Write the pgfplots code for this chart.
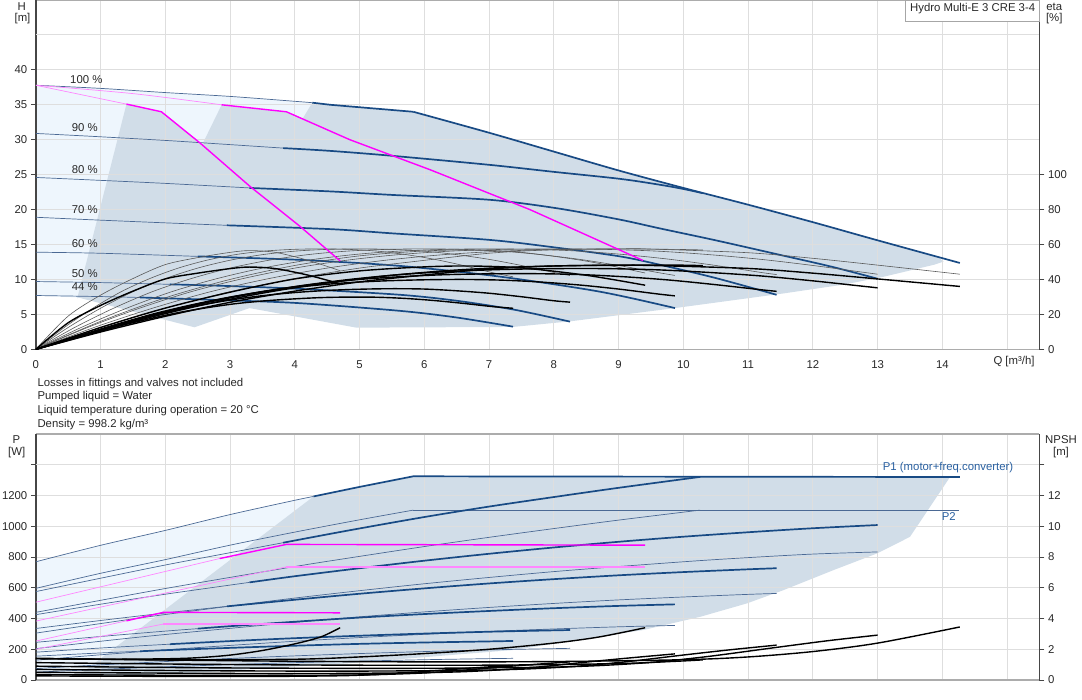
\documentclass[border=0pt]{standalone}
\usepackage{pgfplots}
\pgfplotsset{compat=1.18}
\usepackage{fontspec}
\setmainfont{Liberation Sans}
\definecolor{blueC}{RGB}{24,74,132}
\definecolor{blueT}{RGB}{75,105,148}
\definecolor{fillG}{RGB}{209,221,232}
\definecolor{fillL}{RGB}{238,246,253}
\definecolor{gridC}{RGB}{222,222,222}
\definecolor{magC}{RGB}{255,0,255}
\definecolor{pinkC}{RGB}{255,135,255}
\definecolor{spineC}{RGB}{70,70,70}
\definecolor{txtC}{RGB}{40,40,40}
\definecolor{lblue}{RGB}{40,95,160}
\newcommand{\fs}{\fontsize{11.4}{13.5}\selectfont}
\tikzset{
 thinb/.style={blueT, line width=0.7bp},
 thickb/.style={blueC, line width=1.7bp},
 mag/.style={magC, line width=1.4bp},
 pinkt/.style={pinkC, line width=0.7bp},
 pinkk/.style={pinkC, line width=1.6bp},
 etat/.style={black!65, line width=0.6bp},
 etak/.style={black, line width=1.4bp},
}
\pgfplotsset{
  base/.style={scale only axis, width=1003.7bp, xmin=0, xmax=15.5,
    tick label style={font=\fs, text=txtC},
    /pgf/number format/assume math mode=true,
    /pgf/number format/1000 sep={},
    scaled ticks=false},
  hid/.style={base, hide axis},
  frame/.style={base, grid=major, major grid style={gridC, line width=1bp},
    axis on top, separate axis lines,
    every outer x axis line/.append style={gray!65, line width=1.2bp},
    every outer y axis line/.append style={spineC, line width=1.5bp},
    ytick pos=left, tick align=outside, major tick length=5bp,
    xtick style={draw=none}, ytick style={spineC, line width=1bp}},
  rax/.style={base, axis x line=none, axis y line*=right,
    y axis line style={spineC, line width=1.5bp, -},
    tick align=outside, major tick length=5bp, ytick style={spineC, line width=1bp}},
}
\begin{document}
\begin{tikzpicture}
\path[use as bounding box] (0,0) rectangle (1082bp,-700bp);
% ================= TOP: fills, grid, left axis =================
\begin{axis}[frame, at={(35.8bp,-349.3bp)}, anchor=south west, height=349.3bp,
  ymin=0, ymax=50,
  xtick={0,...,14}, extra x ticks={15}, extra x tick labels={},
  extra x tick style={grid=major, tick style={draw=none}},
  ytick={0,5,...,40}, extra y ticks={45}, extra y tick labels={},
  extra y tick style={grid=major, tick style={draw=none}},
  xticklabel style={yshift=-3bp}]
\addplot[fill=fillL, draw=none] coordinates {(0,37.8)(1,37.35)(2,36.75)(3,36.2)(4,35.5)(4.55,35.0)(5.83,34.0)(5.83,20)(1.5,20)(0.66,7.4)(0,7.7)} -- cycle;
\addplot[fill=fillG, draw=none] coordinates {(0.64,7.3)(1.40,35.1)(1.94,34.0)(2.57,29.3)(2.87,35.0)(3.87,34.0)(4.12,33.0)(4.27,35.3)(4.55,35.0)(5.83,34.0)(7,31.0)(8,28.3)(9,25.6)(10,23.1)(11,20.7)(12,18.2)(13,15.6)(13.95,13.1)(14.02,12.55)(13.87,12.1)(13.1,10.4)(12.5,9.3)(11.55,8.0)(9.87,5.9)(8.25,4.0)(7.37,3.2)(4.95,3.1)(3.3,5.9)(2.45,3.15)(0.66,7.4)} -- cycle;
\end{axis}
% ================= TOP: QH curves =================
\begin{axis}[hid, at={(35.8bp,-349.3bp)}, anchor=south west, height=349.3bp, ymin=0, ymax=50]
\addplot[thinb, smooth] coordinates {(0,37.8)(1,37.35)(2,36.75)(3,36.2)(4,35.5)(4.27,35.3)};
\addplot[thickb] coordinates {(4.27,35.3)(4.55,35.0)(5.83,34.0)};
\addplot[thickb, smooth] coordinates {(5.83,34.0)(7,31.0)(8,28.3)(9,25.6)(10,23.1)(11,20.7)(12,18.2)(13,15.6)(14.27,12.36)};
\addplot[thinb, smooth] coordinates {(0,30.9)(0.84,30.5)(2,29.9)(3,29.3)(3.82,28.8)};
\addplot[thickb, smooth] coordinates {(3.82,28.8)(4.55,28.4)(5.5,27.7)(7.01,26.4)(8,25.4)(9.02,24.4)(9.64,23.55)(10.0,22.95)(10.3,22.35)};
\addplot[thinb, smooth] coordinates {(0,24.6)(0.84,24.25)(2,23.75)(3.3,23.1)};
\addplot[thickb, smooth] coordinates {(3.3,23.1)(4.55,22.6)(5.5,22.1)(7.01,21.4)(8.04,20.2)(9,18.6)(9.64,17.3)(10.5,15.6)(11.5,13.5)(12.3,11.8)(13.0,10.1)};
\addplot[thinb, smooth] coordinates {(0,18.9)(0.84,18.55)(2,18.1)(2.95,17.75)};
\addplot[thickb, smooth] coordinates {(2.95,17.75)(4.55,17.2)(5.5,16.6)(7.01,15.66)(8,14.6)(9.02,13.3)(9.64,12.1)(10.5,10.2)(11.44,7.8)};
\addplot[thinb, smooth] coordinates {(0,13.9)(1,13.75)(2.5,13.3)};
\addplot[thickb, smooth] coordinates {(2.5,13.3)(4.08,12.8)(5.63,11.93)(7.17,10.4)(8.71,8.25)(9.87,5.9)};
\addplot[thinb, smooth] coordinates {(0,9.7)(1,9.55)(2.07,9.3)};
\addplot[thickb, smooth] coordinates {(2.07,9.3)(3,9.05)(4.08,8.65)(5.63,7.8)(6.5,6.95)(7.4,5.65)(8.25,3.96)};
\addplot[thinb, smooth] coordinates {(0,7.7)(1,7.55)(1.61,7.42)};
\addplot[thickb, smooth] coordinates {(1.61,7.42)(3,7.0)(4.08,6.6)(5.63,5.5)(6.5,4.55)(7.37,3.24)};
\end{axis}
% ================= TOP: efficiency curves (right axis) =================
\begin{axis}[rax, at={(35.8bp,-349.3bp)}, anchor=south west, height=349.3bp,
  ymin=0, ymax=200, ytick={0,20,...,100}]
% pump efficiency (thin)
\addplot[etat, smooth] coordinates {(0,0)(1,12.5)(2,23.5)(3,33)(4,40.5)(5,46.5)(5.83,50.2)(7,55)(8,57)(9,57.5)(9.5,57.4)(11,55.3)(12,52.1)(13,48.2)(14.27,43)};
\addplot[etat, smooth] coordinates {(0,0)(0.9,12.5)(1.8,23.5)(2.7,33)(3.6,40.5)(4.5,46.5)(5.4,51)(6.3,54.2)(7.2,56.2)(8.1,57.2)(9,57.5)(9.9,57.2)(10.3,56.9)};
\addplot[etat, smooth] coordinates {(0,0)(0.8,12.5)(1.6,23.5)(2.4,33)(3.2,40.5)(4,46.5)(4.8,51)(5.6,54.2)(6.4,56.2)(7.2,57.2)(8,57.5)(8.8,57.2)(9.6,56.2)(10.4,54.2)(11.2,51.5)(12,48)(12.8,44)(13,43)};
\addplot[etat, smooth] coordinates {(0,0)(0.7,12.5)(1.4,23.5)(2.1,33)(2.8,40.5)(3.5,46.5)(4.2,51)(4.9,54.2)(5.6,56.2)(6.3,57.2)(7,57.5)(7.7,57.2)(8.4,56.2)(9.1,54.2)(9.8,51.5)(10.5,48)(11.2,44)(11.44,42.8)};
\addplot[etat, smooth] coordinates {(0,0)(0.6,12.5)(1.2,23.5)(1.8,33)(2.4,40.5)(3,46.5)(3.6,51)(4.2,54.2)(4.8,56.2)(5.4,57.2)(6,57.5)(6.6,57.2)(7.2,56.2)(7.8,54.2)(8.4,51.5)(9,48)(9.6,44)(9.87,42.3)};
\addplot[etat, smooth] coordinates {(0,0)(0.5,12.5)(1,23.5)(1.5,33)(2,40.5)(2.5,46.5)(3,51)(3.5,54.2)(4,56.2)(4.5,57.2)(5,57.5)(5.5,57.2)(6,56.2)(6.5,54.2)(7,51.5)(7.5,48)(8,44)(8.25,42.2)};
\addplot[etat, smooth] coordinates {(0,0)(0.44,12.5)(0.88,23.5)(1.32,33)(1.76,40.5)(2.2,46.5)(2.64,51)(3.08,54.2)(3.52,56.2)(3.96,57.2)(4.4,57.5)(4.84,57.2)(5.28,56.2)(5.72,54.2)(6.16,51.5)(6.6,48)(7.04,44)(7.37,41.5)};
\addplot[etat, smooth] coordinates {(0,0)(0.5,19)(1,31)(1.5,40.5)(2,48.5)(2.5,52.5)(3,55.5)(3.3,56.5)(3.7,55.5)(4.2,51)(4.7,45)};
\addplot[etat, smooth] coordinates {(0,0)(1,16)(2,29.5)(3,40)(4,48)(5,53.5)(6,56.3)(6.7,56.8)(7.5,55.5)(8.5,50.5)(9.41,43.7)};
% total efficiency (thick)
\addplot[etak, smooth] coordinates {(0,0)(1,9.9)(2,18.9)(3,26.9)(4,33.3)(5,38.6)(5.83,41.9)(7,46)(8,47.7)(9,48.1)(9.5,48)(11,46.3)(12,43.6)(13,40.3)(14.27,36)};
\addplot[etak, smooth] coordinates {(0,0)(0.9,9.7)(1.8,18.6)(2.7,26.4)(3.6,32.8)(4.5,38)(5.4,42)(6.3,44.9)(7.2,46.8)(8.1,47.8)(9,48.2)(9.9,48.2)(10.3,47.9)};
\addplot[etak, smooth] coordinates {(0,0)(0.8,8.95)(1.6,17.3)(2.4,24.8)(3.2,30.9)(4,35.9)(4.8,39.8)(5.6,42.7)(6.4,44.6)(7.2,45.7)(8,46.2)(8.8,46.2)(9.6,45.5)(10.4,44)(11.2,42)(12,39.2)(12.8,36)(13,35.2)};
\addplot[etak, smooth] coordinates {(0,0)(0.7,8)(1.4,15.6)(2.1,22.5)(2.8,28.3)(3.5,33.1)(4.2,36.8)(4.9,39.7)(5.6,41.5)(6.3,42.7)(7,43.2)(7.7,43.3)(8.4,42.8)(9.1,41.5)(9.8,39.6)(10.5,37)(11.2,34.1)(11.44,33.2)};
\addplot[etak, smooth] coordinates {(0,0)(0.6,7)(1.2,13.8)(1.8,20.1)(2.4,25.4)(3,29.9)(3.6,33.5)(4.2,36.2)(4.8,38.1)(5.4,39.2)(6,39.8)(6.6,40)(7.2,39.6)(7.8,38.5)(8.4,36.8)(9,34.5)(9.6,31.7)(9.87,30.6)};
\addplot[etak, smooth] coordinates {(0,0)(0.5,5.6)(1,11.1)(1.5,16.5)(2,21.1)(2.5,25)(3,28.2)(3.5,30.7)(4,32.5)(4.5,33.7)(5,34.4)(5.5,34.7)(6,34.5)(6.5,33.5)(7,32.1)(7.5,30.1)(8,27.8)(8.25,27)};
\addplot[etak, smooth] coordinates {(0,0)(0.44,4.5)(0.88,9.1)(1.32,13.6)(1.76,17.5)(2.2,21)(2.64,23.8)(3.08,26.1)(3.52,27.7)(3.96,28.8)(4.4,29.6)(4.84,29.9)(5.28,29.8)(5.72,29.1)(6.16,27.9)(6.6,26.3)(7.04,24.5)(7.37,23.5)};
\addplot[etak, smooth] coordinates {(0,0)(0.5,15.2)(1,25.1)(1.5,33.3)(2,40.3)(2.5,43.6)(3,46.2)(3.3,47.1)(3.7,46.2)(4.2,42.5)(4.7,37.5)};
\addplot[etak, smooth] coordinates {(0,0)(1,12.5)(2,23.6)(3,32.7)(4,40.3)(5,44.9)(6,47.2)(6.7,47.7)(7.5,46.6)(8.5,42.4)(9.41,36.7)};
\end{axis}
% ================= TOP: control curves (magenta) =================
\begin{axis}[hid, at={(35.8bp,-349.3bp)}, anchor=south west, height=349.3bp, ymin=0, ymax=50]
\addplot[pinkt] coordinates {(0,37.8)(1.40,35.1)};
\addplot[mag] coordinates {(1.40,35.1)(1.94,34.0)(2.54,29.5)(3.31,23.3)(4.08,17.6)(4.70,12.65)};
\addplot[pinkt, smooth] coordinates {(0,37.8)(1.5,36.6)(2.87,35.0)};
\addplot[mag] coordinates {(2.87,35.0)(3.87,34.0)(4.85,30.0)(6.09,25.7)(7.63,20.0)(9.38,12.7)};
\end{axis}
% ================= BOTTOM: fills, grid, left axis =================
\begin{axis}[frame, at={(35.8bp,-680bp)}, anchor=south west, height=246bp,
  ymin=0, ymax=1600, xtick={0,...,15}, xticklabels={},
  ytick={0,200,...,1200}, extra y ticks={1400}, extra y tick labels={},
  extra y tick style={grid=major}]
\addplot[fill=fillL, draw=none] coordinates {(0,769)(1,876)(2,973)(3,1076)(4,1169)(4.29,1194)(2,300)(0.63,20)(0,50)} -- cycle;
\addplot[fill=fillG, draw=none] coordinates {(0.63,20)(4.29,1194)(5,1256)(5.83,1325)(9,1323)(14.12,1321)(13.8,1120)(13.5,931)(12.99,823)(12.32,715)(11.55,585)(10.98,498)(10.26,411)(9.38,325)(7.37,195)(4.86,110)(3.3,70)(2.4,45)} -- cycle;
\end{axis}
% ================= BOTTOM: power curves =================
\begin{axis}[hid, at={(35.8bp,-680bp)}, anchor=south west, height=246bp, ymin=0, ymax=1600]
\addplot[thinb, smooth] coordinates {(0,769)(1,876)(2,973)(3,1076)(4,1169)(4.29,1194)};
\addplot[thickb] coordinates {(4.29,1194)(5,1256)(5.83,1325)(7,1324)(9,1323)(11,1322)(13,1321)(14.27,1321)};
\addplot[thinb, smooth] coordinates {(0,596)(1,694)(2,783)(3,877)(4,962)(5,1042)(5.83,1105)};
\addplot[thinb] coordinates {(5.83,1105)(8,1105)(11,1105)(14.25,1105)};
\addplot[thinb, smooth] coordinates {(0,575)(1,662)(2,748)(3,828)(3.82,893)};
\addplot[thickb, smooth] coordinates {(3.82,893)(4.86,975)(6,1060)(7,1128)(8,1190)(9,1250)(10.26,1321)};
\addplot[thinb, smooth] coordinates {(0,440)(2,595)(4,738)(4.86,795)(6,868)(7,928)(8,985)(9,1040)(10.26,1105)};
\addplot[thinb, smooth] coordinates {(0,425)(1,493)(2,558)(3.3,635)};
\addplot[thickb, smooth] coordinates {(3.3,635)(4,675)(5,727)(6,776)(7,821)(8,862)(9,899)(10,932)(11,961)(12,987)(13,1008)};
\addplot[thinb, smooth] coordinates {(0,305)(1,367)(2,426)(4,533)(6,626)(8,705)(10,769)(11,796)(12,819)(13,833)};
\addplot[thinb, smooth] coordinates {(0,335)(1,387)(2,436)(2.95,479)};
\addplot[thickb, smooth] coordinates {(2.95,479)(4,522)(5,561)(6,596)(7,628)(8,656)(9,681)(10,702)(11,720)(11.44,727)};
\addplot[thinb, smooth] coordinates {(0,204)(1,252)(2,296)(4,375)(5,411)(6,443)(7,472)(8,498)(9,521)(10,540)(11,557)(11.44,563)};
\addplot[thinb, smooth] coordinates {(0,245)(1,283)(2,318)(2.5,334)};
\addplot[thickb, smooth] coordinates {(2.5,334)(3,350)(4,379)(5,406)(6,429)(7,449)(8,467)(9,482)(9.87,492)};
\addplot[thinb, smooth] coordinates {(0,129)(1,164)(2,196)(3,225)(4,252)(5,276)(6,297)(7,316)(8,332)(9,346)(9.87,355)};
\addplot[thinb, smooth] coordinates {(0,181)(1,208)(2.07,233)};
\addplot[thickb, smooth] coordinates {(2.07,233)(3,253)(4,272)(5,288)(6,302)(7,314)(8,323)(8.25,325)};
\addplot[thinb, smooth] coordinates {(0,74.5)(1,98.5)(2,120)(3,140)(4,157)(5,172)(6,185)(7,196)(8,204)(8.25,206)};
\addplot[thinb, smooth] coordinates {(0,155)(1,176)(1.61,187)};
\addplot[thickb, smooth] coordinates {(1.61,187)(2,194)(3,209)(4,223)(5,235)(6,244)(7,251)(7.37,254)};
\addplot[thinb, smooth] coordinates {(0,51)(1,69)(2,86)(3,100)(4,113)(5,123)(6,132)(7,139)(7.37,141)};
% control curves
\addplot[pinkt] coordinates {(0,506)(2.84,790)};
\addplot[mag] coordinates {(2.84,790)(3.87,882)(9.41,877)};
\addplot[pinkt] coordinates {(0,383)(3.87,736)};
\addplot[pinkk] coordinates {(3.87,736)(9.41,736)};
\addplot[pinkt] coordinates {(0,253)(1.40,385)};
\addplot[mag] coordinates {(1.40,385)(1.97,440)(4.70,437)};
\addplot[pinkt] coordinates {(0,200)(1.97,364)};
\addplot[pinkk] coordinates {(1.97,364)(4.70,364)};
\end{axis}
% ================= BOTTOM: NPSH (right axis) =================
\begin{axis}[rax, at={(35.8bp,-680bp)}, anchor=south west, height=246bp,
  ymin=0, ymax=16, ytick={0,2,...,12}, extra y ticks={14}, extra y tick labels={}]
\addplot[etak, smooth] coordinates {(0,1.4)(2,1.3)(4,1.22)(6,1.18)(8,1.2)(10,1.32)(11,1.5)(12,1.85)(13,2.4)(14.27,3.45)};
\addplot[etak, smooth] coordinates {(0,1.13)(1.8,1.05)(3.6,0.99)(5.4,0.96)(7.2,0.97)(9,1.07)(9.9,1.22)(10.3,1.31)};
\addplot[etak, smooth] coordinates {(0,0.9)(1.6,0.83)(3.2,0.78)(4.8,0.76)(6.4,0.77)(8,0.84)(8.8,0.96)(9.6,1.18)(10.4,1.54)(11.4,2.1)(12.24,2.56)(13,2.92)};
\addplot[etak, smooth] coordinates {(0,0.69)(1.4,0.64)(2.8,0.6)(4.2,0.58)(5.6,0.59)(7,0.65)(7.7,0.74)(8.4,0.91)(9.1,1.18)(9.99,1.62)(10.71,1.96)(11.44,2.27)};
\addplot[etak, smooth] coordinates {(0,0.5)(1.2,0.47)(2.4,0.44)(3.6,0.42)(4.8,0.43)(6,0.48)(6.6,0.54)(7.2,0.67)(7.8,0.86)(8.56,1.19)(9.18,1.44)(9.87,1.7)};
\addplot[etak, smooth] coordinates {(0,0.35)(1,0.33)(2,0.31)(3,0.3)(4,0.3)(5,0.33)(5.5,0.38)(6,0.46)(6.5,0.6)(7.13,0.83)(7.65,1.0)(8.25,1.18)};
\addplot[etak, smooth] coordinates {(0,0.27)(0.88,0.25)(1.76,0.24)(2.64,0.23)(3.52,0.23)(4.4,0.26)(4.84,0.29)(5.28,0.36)(5.72,0.47)(6.28,0.64)(6.73,0.78)(7.37,0.95)};
\addplot[etak, smooth] coordinates {(0,1.4)(1,1.35)(2,1.38)(2.5,1.45)(3,1.62)(3.5,1.92)(4,2.35)(4.4,2.8)(4.7,3.4)};
\addplot[etak, smooth] coordinates {(0,1.4)(2,1.32)(4,1.35)(5,1.5)(6,1.72)(7,2.0)(8,2.4)(8.7,2.8)(9.41,3.4)};
\end{axis}
% ================= texts =================
\begin{scope}[every node/.style={font=\fs, text=txtC, inner sep=0pt}]
\node[anchor=base] at (21.7bp,-10bp) {H};
\node[anchor=base] at (22.5bp,-21.7bp) {[m]};
\node[anchor=base] at (1054.2bp,-10bp) {eta};
\node[anchor=base] at (1054.2bp,-21.7bp) {[\%]};
\node[anchor=base west] at (993.3bp,-364.9bp) {Q [m³/h]};
\node[anchor=base west] at (70bp,-83.3bp) {100 \%};
\node[anchor=base west] at (71.7bp,-131bp) {90 \%};
\node[anchor=base west] at (71.7bp,-173.7bp) {80 \%};
\node[anchor=base west] at (71.7bp,-213.3bp) {70 \%};
\node[anchor=base west] at (71.7bp,-247.3bp) {60 \%};
\node[anchor=base west] at (71.7bp,-277bp) {50 \%};
\node[anchor=base west] at (71.7bp,-290.3bp) {44 \%};
\node[anchor=base west] at (37.3bp,-386.3bp) {Losses in fittings and valves not included};
\node[anchor=base west] at (37.3bp,-399.3bp) {Pumped liquid = Water};
\node[anchor=base west] at (37.3bp,-413.3bp) {Liquid temperature during operation = 20 °C};
\node[anchor=base west] at (37.3bp,-427.3bp) {Density = 998.2 kg/m³};
\node[anchor=base] at (16.3bp,-443.3bp) {P};
\node[anchor=base] at (16.7bp,-455.5bp) {[W]};
\node[anchor=base] at (1061bp,-443.3bp) {NPSH};
\node[anchor=base] at (1061bp,-455.5bp) {[m]};
\node[anchor=base west, text=lblue] at (882.7bp,-470.5bp) {P1 (motor+freq.converter)};
\node[anchor=base west, text=lblue] at (941.7bp,-520.9bp) {P2};
\end{scope}
\draw[fill=white, draw=gray!70, line width=0.8bp] (905bp,0bp) rectangle (1039.3bp,-21bp);
\node[font=\fs, text=txtC, inner sep=0pt, anchor=base west] at (910bp,-11.5bp) {Hydro Multi-E 3 CRE 3-4};
\end{tikzpicture}
\end{document}
